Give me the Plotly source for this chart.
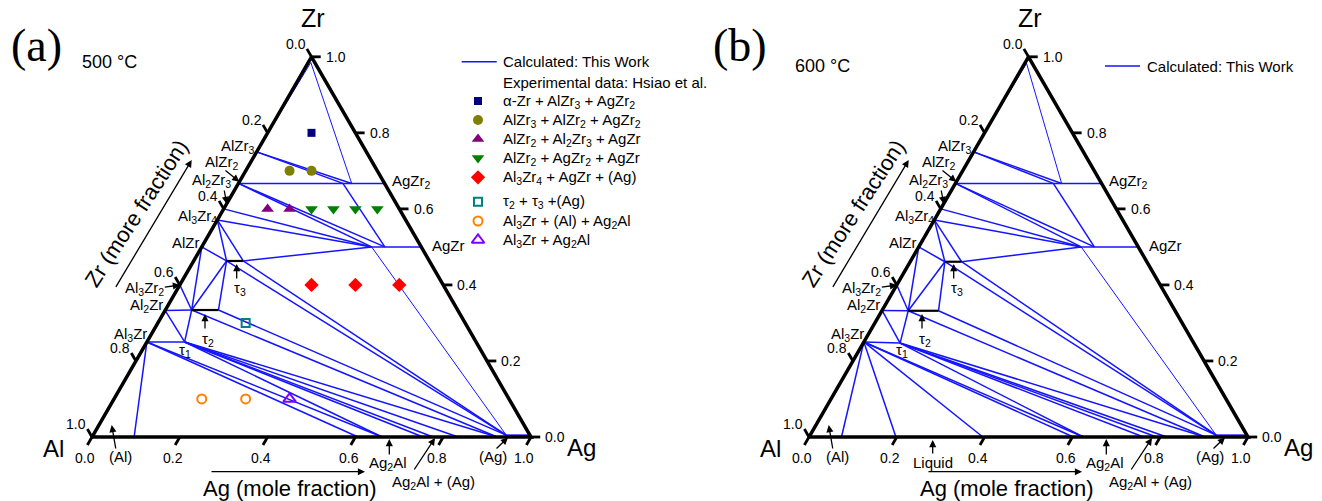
import math
import plotly.graph_objects as go

W, H = 1322, 501
SIDE = 439.0            # triangle side length in px
R3 = math.sqrt(3) / 2
FONT = "Liberation Sans, Arial, sans-serif"
BLUE = "#1414ff"

# ---------------- DATA : compositions (x_Ag, x_Zr) ----------------
NODES_500 = {
    "aZr": (0.006, 0.985),
    "AlZr3": (0.0, 0.75), "AlZr2": (0.0, 0.667), "Al2Zr3": (0.0, 0.60),
    "Al3Zr4": (0.0, 0.571), "AlZr": (0.0, 0.50), "Al3Zr2": (0.0, 0.40),
    "Al2Zr": (0.0, 0.333), "Al3Zr": (0.0, 0.25),
    "G1": (0.258, 0.667), "G2": (0.238, 0.667), "AgZr2": (0.333, 0.667),
    "P1": (0.387, 0.50), "P2": (0.417, 0.50), "AgZr": (0.50, 0.50),
    "T3L": (0.075, 0.463), "T3R": (0.113, 0.463),
    "T2L": (0.060, 0.334), "T2R": (0.121, 0.334),
    "T1": (0.086, 0.25),
    "AlS": (0.096, 0.0), "B1": (0.606, 0.0), "B2": (0.661, 0.0),
    "B3": (0.754, 0.0), "B4": (0.777, 0.0), "B5": (0.834, 0.0),
    "B6": (0.923, 0.0), "AgS": (0.941, 0.005), "AgE": (0.995, 0.005),
}
TIES_500 = [
    ("AlZr3", "G1"), ("AlZr3", "G2"), ("AlZr2", "AgZr2"),
    ("G2", "P2"), ("AlZr2", "P2"), ("AlZr2", "P1"), ("Al2Zr3", "P1"), ("Al3Zr4", "P1"),
    ("P1", "AgZr"), ("Al3Zr4", "T3R"), ("Al3Zr4", "T3L"), ("AlZr", "T3L"),
    ("T3R", "P1"), ("T3R", "AgS"), ("T3L", "AgS"), ("T3L", "T2R"), ("T2R", "AgS"),
    ("T3L", "T2L"), ("AlZr", "T2L"), ("Al3Zr2", "T2L"), ("Al2Zr", "T2L"),
    ("Al2Zr", "T1"), ("T1", "T2L"), ("T2L", "B6"), ("T1", "B6"), ("T1", "B5"),
    ("T1", "B4"), ("T1", "B3"), ("T1", "B2"), ("Al3Zr", "T1"), ("Al3Zr", "B2"),
    ("Al3Zr", "B1"), ("Al3Zr", "AlS"), ("AgS", "AgE"),
]
THIN_500 = [("aZr", "G1"), ("P1", "AgS"), ("aZr", "AlZr3")]
TAUS_500 = [("T3L", "T3R"), ("T2L", "T2R")]

NODES_600 = {
    "aZr": (0.004, 0.983),
    "AlZr3": (0.0, 0.75), "AlZr2": (0.0, 0.667), "Al2Zr3": (0.0, 0.60),
    "Al3Zr4": (0.0, 0.571), "AlZr": (0.0, 0.50), "Al3Zr2": (0.0, 0.40),
    "Al2Zr": (0.0, 0.333), "Al3Zr": (0.0, 0.25),
    "G1": (0.242, 0.667), "G2": (0.223, 0.667), "AgZr2": (0.333, 0.667),
    "P1": (0.370, 0.50), "P2": (0.400, 0.50), "AgZr": (0.50, 0.50),
    "T3L": (0.079, 0.461), "T3R": (0.117, 0.461),
    "T2L": (0.060, 0.332), "T2R": (0.129, 0.332),
    "T1": (0.084, 0.247),
    "AlS": (0.074, 0.0), "L1": (0.198, 0.0), "L2": (0.396, 0.0),
    "B1": (0.602, 0.0), "B2": (0.625, 0.0), "B3": (0.762, 0.0),
    "B4": (0.792, 0.0), "B5": (0.815, 0.0), "B6": (0.902, 0.0),
    "AgS": (0.925, 0.005), "AgE": (0.997, 0.005),
}
TIES_600 = [
    ("AlZr3", "G1"), ("AlZr3", "G2"), ("AlZr2", "AgZr2"),
    ("G2", "P2"), ("AlZr2", "P2"), ("AlZr2", "P1"), ("Al2Zr3", "P1"), ("Al3Zr4", "P1"),
    ("P1", "AgZr"), ("Al3Zr4", "T3R"), ("Al3Zr4", "T3L"), ("AlZr", "T3L"),
    ("T3R", "P1"), ("T3R", "AgS"), ("T3L", "AgS"), ("T3L", "T2R"), ("T2R", "AgS"),
    ("T3L", "T2L"), ("AlZr", "T2L"), ("Al3Zr2", "T2L"), ("Al2Zr", "T2L"),
    ("Al2Zr", "T1"), ("T1", "T2L"), ("T2L", "B6"), ("T1", "B6"), ("T1", "B5"),
    ("T1", "B4"), ("T1", "B3"), ("T1", "B2"), ("Al3Zr", "T1"), ("Al3Zr", "B2"),
    ("Al3Zr", "B1"), ("Al3Zr", "L2"), ("Al3Zr", "L1"), ("Al3Zr", "AlS"), ("AgS", "AgE"),
]
THIN_600 = [("aZr", "G1"), ("P1", "AgS"), ("aZr", "AlZr3")]
TAUS_600 = [("T3L", "T3R"), ("T2L", "T2R")]

# experimental data (Hsiao et al.), 500 °C : x_Ag, x_Zr
EXP_NAMES = [
    "α-Zr + AlZr<sub>3</sub> + AgZr<sub>2</sub>",
    "AlZr<sub>3</sub> + AlZr<sub>2</sub> + AgZr<sub>2</sub>",
    "AlZr<sub>2</sub> + Al<sub>2</sub>Zr<sub>3</sub> + AgZr",
    "AlZr<sub>2</sub> + AgZr<sub>2</sub> + AgZr",
    "Al<sub>3</sub>Zr<sub>4</sub> + AgZr + (Ag)",
    "τ<sub>2</sub> + τ<sub>3</sub> +(Ag)",
    "Al<sub>3</sub>Zr + (Al) + Ag<sub>2</sub>Al",
    "Al<sub>3</sub>Zr + Ag<sub>2</sub>Al",
]
EXP_AG = [[0.10], [0.10, 0.15], [0.10, 0.15], [0.20, 0.25, 0.30, 0.35],
          [0.30, 0.40, 0.50], [0.20], [0.20, 0.30], [0.40]]
EXP_ZR = [[0.80], [0.70, 0.70], [0.60, 0.60], [0.60, 0.60, 0.60, 0.60],
          [0.40, 0.40, 0.40], [0.30], [0.10, 0.10], [0.10]]
EXP_STYLE = [
    dict(symbol="square", color="#000080", size=8),
    dict(symbol="circle", color="#808000", size=10),
    dict(symbol="triangle-up", color="#800080", size=11),
    dict(symbol="triangle-down", color="#008000", size=11),
    dict(symbol="diamond", color="#ff0000", size=11),
    dict(symbol="square-open", color="#008080", size=8, line=dict(width=2, color="#008080")),
    dict(symbol="circle-open", color="#ff8000", size=9, line=dict(width=2, color="#ff8000")),
    dict(symbol="triangle-up-open", color="#8000ff", size=11, line=dict(width=2, color="#8000ff")),
]
TICK_VALUES = [0.0, 0.2, 0.4, 0.6, 0.8, 1.0]
TICK_TEXT = ["0.0", "0.2", "0.4", "0.6", "0.8", "1.0"]


def tern(ag, zr):
    return ag + zr / 2.0, zr * R3


def seg_xy(nodes, pairs):
    xs, ys = [], []
    for a, b in pairs:
        for n in (a, b):
            x, y = tern(*nodes[n])
            xs.append(x)
            ys.append(y)
        xs.append(None)
        ys.append(None)
    return xs, ys


fig = go.Figure()
annotations = []
shapes = []


def pp(px, py):
    return px / W, 1 - py / H


def label(text, px, py, size=15, xanchor="center", yanchor="middle", family=FONT, angle=0):
    x, y = pp(px, py)
    annotations.append(dict(text=text, x=x, y=y, xref="paper", yref="paper", showarrow=False,
                            xanchor=xanchor, yanchor=yanchor, textangle=angle,
                            font=dict(size=size, family=family, color="black")))


def arrow(tail, head):
    x, y = pp(*head)
    annotations.append(dict(text="", x=x, y=y, xref="paper", yref="paper", showarrow=True,
                            ax=tail[0] - head[0], ay=tail[1] - head[1], axref="pixel", ayref="pixel",
                            arrowhead=2, arrowsize=1.1, arrowwidth=1.3, arrowcolor="black",
                            standoff=0, startstandoff=0))


PANELS = [
    dict(xa="x", ya="y", nodes=NODES_500, ties=TIES_500, thin=THIN_500, taus=TAUS_500, dx=0),
    dict(xa="x2", ya="y2", nodes=NODES_600, ties=TIES_600, thin=THIN_600, taus=TAUS_600, dx=717),
]

TL = 0.021
for p in PANELS:
    xa, ya = p["xa"], p["ya"]
    xs, ys = seg_xy(p["nodes"], p["ties"])
    fig.add_trace(go.Scatter(x=xs, y=ys, mode="lines", line=dict(color=BLUE, width=1.5),
                             xaxis=xa, yaxis=ya, hoverinfo="skip", showlegend=False))
    xs, ys = seg_xy(p["nodes"], p["thin"])
    fig.add_trace(go.Scatter(x=xs, y=ys, mode="lines", line=dict(color=BLUE, width=1.0),
                             xaxis=xa, yaxis=ya, hoverinfo="skip", showlegend=False))
    # frame
    fx, fy = zip(*[tern(0, 0), tern(1, 0), tern(0, 1), tern(0, 0)])
    fig.add_trace(go.Scatter(x=list(fx), y=list(fy), mode="lines", line=dict(color="black", width=3.5),
                             xaxis=xa, yaxis=ya, hoverinfo="skip", showlegend=False))
    xs, ys = seg_xy(p["nodes"], p["taus"])
    fig.add_trace(go.Scatter(x=xs, y=ys, mode="lines", line=dict(color="black", width=2.2),
                             xaxis=xa, yaxis=ya, hoverinfo="skip", showlegend=False))
    # ticks
    tx, ty = [], []
    for v, t in zip(TICK_VALUES, TICK_TEXT):
        # bottom : Ag fraction
        x0, y0 = tern(v, 0)
        x1, y1 = x0 - 0.5 * TL, y0 - R3 * TL
        tx += [x0, x1, None]; ty += [y0, y1, None]
        annotations.append(dict(text=t, x=x1, y=y1, xref=xa, yref=ya, showarrow=False,
                                xanchor="center", yanchor="top", xshift=-2, yshift=-3,
                                font=dict(size=14, family=FONT, color="black")))
        # left : Al fraction
        x0, y0 = tern(0, 1 - v)
        x1, y1 = x0 - 0.5 * TL, y0 + R3 * TL
        tx += [x0, x1, None]; ty += [y0, y1, None]
        annotations.append(dict(text=t, x=x1, y=y1, xref=xa, yref=ya, showarrow=False,
                                xanchor="right", yanchor="middle", xshift=1, yshift=5,
                                font=dict(size=14, family=FONT, color="black")))
        # right : Zr fraction
        x0, y0 = tern(1 - v, v)
        x1, y1 = x0 + TL, y0
        tx += [x0, x1, None]; ty += [y0, y1, None]
        annotations.append(dict(text=t, x=x1, y=y1, xref=xa, yref=ya, showarrow=False,
                                xanchor="left", yanchor="middle", xshift=3,
                                font=dict(size=14, family=FONT, color="black")))
    fig.add_trace(go.Scatter(x=tx, y=ty, mode="lines", line=dict(color="black", width=2.8),
                             xaxis=xa, yaxis=ya, hoverinfo="skip", showlegend=False))

    d = p["dx"]
    label("Zr", 313 + d, 18, size=25)
    label("Al", 53 + d, 448, size=24)
    label("Ag", 581 + d, 447, size=24)
    label("Ag (mole fraction)", 290 + d, 488, size=22)
    arrow((210 + d, 471.7), (365 + d, 471.7))
    label("Zr (more fraction)", 136 + d, 213, size=22, angle=-57)
    arrow((115 + d, 288.3), (191.7 + d, 160))
    for txt, x, y in [
        ("AlZr<sub>3</sub>", 238.5, 146.7), ("AlZr<sub>2</sub>", 222, 163),
        ("Al<sub>2</sub>Zr<sub>3</sub>", 211.5, 180.5), ("Al<sub>3</sub>Zr<sub>4</sub>", 197.5, 216.7),
        ("AlZr", 186, 242.7), ("Al<sub>3</sub>Zr<sub>2</sub>", 144, 288.3),
        ("Al<sub>2</sub>Zr", 146.5, 305), ("Al<sub>3</sub>Zr", 130, 334.3),
        ("τ<sub>3</sub>", 240, 288), ("τ<sub>2</sub>", 208.3, 339), ("τ<sub>1</sub>", 185, 350),
        ("(Al)", 120, 456.7), ("Ag<sub>2</sub>Al", 388.3, 463.3),
        ("Ag<sub>2</sub>Al + (Ag)", 433, 482.7), ("(Ag)", 492.7, 456.7),
        ("AgZr<sub>2</sub>", 411, 181.7), ("AgZr", 448, 245),
    ]:
        label(txt, x + d, y, size=15)
    for tail, head in [((224, 169.3), (239.3, 181.7)), ((224, 189), (226.7, 204)),
                       ((163.3, 287.3), (180, 285)), ((236.7, 280), (236.7, 264)),
                       ((205, 330), (205, 314)), ((116, 450), (111.7, 425)),
                       ((389.3, 456), (389.3, 439)), ((413.3, 471), (435, 438)),
                       ((495, 450), (508, 437.5))]:
        arrow((tail[0] + d, tail[1]), (head[0] + d, head[1]))

label("Liquid", 932.7, 462.7, size=15)
arrow((932.7, 455), (932.7, 440))

label("(a)", 36, 45, size=46, family="Liberation Serif, Times New Roman, serif")
label("(b)", 740, 45, size=46, family="Liberation Serif, Times New Roman, serif")
label("500 °C", 109, 62, size=18)
label("600 °C", 822, 66, size=18)

# experimental data points (panel a)
for name, ag, zr, st in zip(EXP_NAMES, EXP_AG, EXP_ZR, EXP_STYLE):
    xy = [tern(a, z) for a, z in zip(ag, zr)]
    fig.add_trace(go.Scatter(x=[q[0] for q in xy], y=[q[1] for q in xy], mode="markers",
                             marker=st, name=name, xaxis="x", yaxis="y",
                             hoverinfo="skip", showlegend=False))

# legends (drawn on a pixel overlay axis)
LEG_ROWS = [101, 120, 139, 158, 177.3, 201.7, 221, 240]
for y, name, st in zip(LEG_ROWS, EXP_NAMES, EXP_STYLE):
    fig.add_trace(go.Scatter(x=[478], y=[y], mode="markers", marker=st, xaxis="x3", yaxis="y3",
                             hoverinfo="skip", showlegend=False))
    label(name, 501, y, size=15, xanchor="left")
label("Calculated: This Work", 501, 61.7, size=15, xanchor="left")
label("Experimental data: Hsiao et al.", 501, 82.3, size=15, xanchor="left")
label("Calculated: This Work", 1145, 66, size=15, xanchor="left")
for x0, x1, y in [(461.7, 496.7, 61.7), (1105, 1140, 66)]:
    a0, b0 = pp(x0, y)
    a1, _ = pp(x1, y)
    shapes.append(dict(type="line", xref="paper", yref="paper", x0=a0, x1=a1, y0=b0, y1=b0,
                       line=dict(color=BLUE, width=1.5)))

yr = [-(H - 437) / SIDE, 437 / SIDE]
fig.update_layout(
    width=W, height=H, margin=dict(l=0, r=0, t=0, b=0),
    paper_bgcolor="white", plot_bgcolor="rgba(0,0,0,0)", showlegend=False,
    xaxis=dict(domain=[0, 0.5], range=[-92 / SIDE, (661 - 92) / SIDE], visible=False, anchor="y"),
    yaxis=dict(domain=[0, 1], range=yr, visible=False, anchor="x"),
    xaxis2=dict(domain=[0.5, 1], range=[-148 / SIDE, (661 - 148) / SIDE], visible=False, anchor="y2"),
    yaxis2=dict(domain=[0, 1], range=yr, visible=False, anchor="x2"),
    xaxis3=dict(domain=[0, 1], range=[0, W], visible=False, anchor="y3"),
    yaxis3=dict(domain=[0, 1], range=[H, 0], visible=False, anchor="x3"),
    annotations=annotations, shapes=shapes,
)
fig.write_html("out.html")
